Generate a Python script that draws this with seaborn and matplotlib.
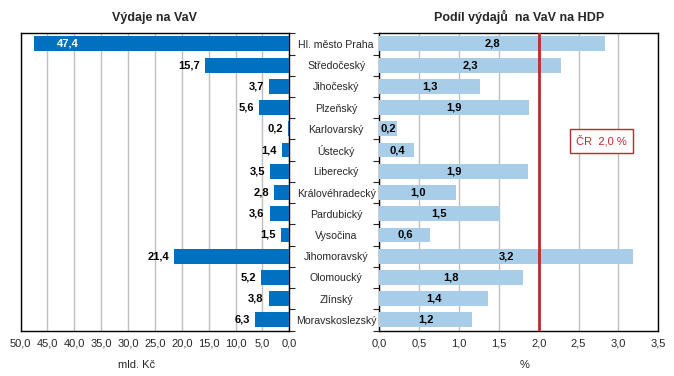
import numpy as np
import pandas as pd
import matplotlib
matplotlib.use("Agg")
import matplotlib.pyplot as plt
import seaborn as sns

# ── data ─────────────────────────────────────────────
regions = ["Hl. město Praha", "Středočeský", "Jihočeský", "Plzeňský", "Karlovarský",
           "Ústecký", "Liberecký", "Královéhradecký", "Pardubický", "Vysočina",
           "Jihomoravský", "Olomoucký", "Zlínský", "Moravskoslezský"]
vydaje = [47.4, 15.7, 3.7, 5.6, 0.2, 1.4, 3.5, 2.8, 3.6, 1.5, 21.4, 5.2, 3.8, 6.3]
podil_hdp = [2.83, 2.28, 1.26, 1.88, 0.22, 0.44, 1.87, 0.96, 1.51, 0.64, 3.18, 1.80, 1.36, 1.16]
cr_podil = 2.0

left_ticks = np.arange(0, 50.1, 5)
right_ticks = np.arange(0, 3.51, 0.5)

df = pd.DataFrame({"kraj": regions, "vydaje": vydaje, "podil": podil_hdp})

def cz(v):
    return f"{v:.1f}".replace(".", ",")

# ── style ────────────────────────────────────────────
sns.set_style("white")
plt.rcParams["font.family"] = ["Liberation Sans", "DejaVu Sans"]
plt.rcParams["font.size"] = 8

fig = plt.figure(figsize=(6.74, 3.76), dpi=100)
ax1 = fig.add_axes([20.5 / 674, 1 - 330.5 / 376, 268.8 / 674, 297.2 / 376])
ax2 = fig.add_axes([379.3 / 674, 1 - 330.5 / 376, 279 / 674, 297.2 / 376])

grid_c = "#BFBFBF"

# ── left: Výdaje na VaV ──────────────────────────────
sns.barplot(data=df, y="kraj", x="vydaje", color="#0070C0", width=0.7,
            saturation=1, linewidth=0, ax=ax1, zorder=3)
ax1.set_xlim(50, 0)
ax1.set_ylim(13.5, -0.5)
ax1.set_xticks(left_ticks)
ax1.set_xticklabels([cz(t) for t in left_ticks])
ax1.xaxis.grid(True, color=grid_c, lw=1, zorder=0)
ax1.set_axisbelow(True)
ax1.set_yticks(range(len(regions)))
ax1.set_yticklabels([])
ax1.set_yticks(np.arange(-0.5, 13.6, 1), minor=True)
ax1.tick_params(axis="y", which="major", length=0)
ax1.tick_params(axis="y", which="minor", left=False, right=True, length=4,
                direction="out", width=0.8)
ax1.tick_params(axis="x", length=3, direction="out", width=0.8, pad=3)
ax1.set_ylabel("")
ax1.set_xlabel("mld. Kč")
ax1.xaxis.set_label_coords(0.43, -0.1)
for s in ax1.spines.values():
    s.set_color("black")
    s.set_linewidth(1)

for i, v in enumerate(vydaje):
    if v > 40:
        ax1.text(v - 4.1, i, cz(v), ha="left", va="center", color="white",
                 fontweight="bold", fontsize=8, zorder=4)
    else:
        ax1.text(v + 1.0, i, cz(v), ha="right", va="center", color="black",
                 fontweight="bold", fontsize=8, zorder=4)

ax1.set_title("Výdaje na VaV", fontweight="bold", fontsize=9, pad=9)

# ── right: Podíl výdajů na VaV na HDP ────────────────
sns.barplot(data=df, y="kraj", x="podil", color="#A7CDE8", width=0.7,
            saturation=1, linewidth=0, ax=ax2, zorder=3)
ax2.set_xlim(0, 3.5)
ax2.set_ylim(13.5, -0.5)
ax2.set_xticks(right_ticks)
ax2.set_xticklabels([cz(t) for t in right_ticks])
ax2.xaxis.grid(True, color=grid_c, lw=1, zorder=0)
ax2.set_axisbelow(True)
ax2.set_yticks(range(len(regions)))
ax2.set_yticklabels(regions, ha="center", fontsize=7.6)
ax2.set_yticks(np.arange(-0.5, 13.6, 1), minor=True)
ax2.tick_params(axis="y", which="major", length=0, pad=31)
ax2.tick_params(axis="y", which="minor", left=True, length=4,
                direction="out", width=0.8)
ax2.tick_params(axis="x", length=3, direction="out", width=0.8, pad=3)
ax2.set_ylabel("")
ax2.set_xlabel("%")
ax2.xaxis.set_label_coords(0.52, -0.1)
for s in ax2.spines.values():
    s.set_color("black")
    s.set_linewidth(1)

for i, v in enumerate(podil_hdp):
    ax2.text(v / 2, i, cz(v), ha="center", va="center", color="black",
             fontweight="bold", fontsize=8, zorder=4)

ax2.axvline(cr_podil, color="#C0282D", lw=2, zorder=5)
ax2.text(2.79, 4.56, "ČR  " + cz(cr_podil) + " %", ha="center", va="center",
         color="#C0282D", fontsize=8, zorder=6,
         bbox=dict(boxstyle="square,pad=0.55", fc="white", ec="#C0282D", lw=1))

ax2.set_title("Podíl výdajů  na VaV na HDP", fontweight="bold", fontsize=9, pad=9)

fig.savefig("out.png", dpi=100)
